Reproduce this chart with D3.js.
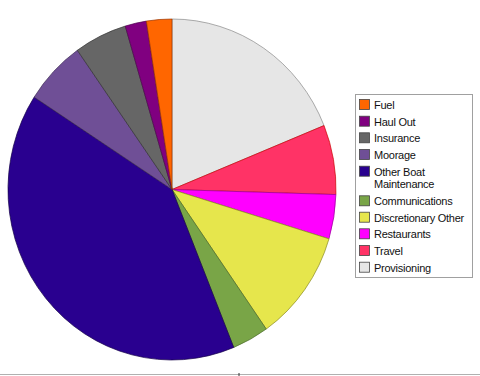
<!DOCTYPE html>
<html>
<head>
<meta charset="utf-8">
<script src="https://cdn.jsdelivr.net/npm/d3@7"></script>
<style>
  html, body { margin: 0; padding: 0; background: #fff; }
  svg { display: block; }
</style>
</head>
<body>
<div id="chart"></div>
<script>
// Legend order (top to bottom)
const categories = ['Fuel', 'Haul Out', 'Insurance', 'Moorage', 'Other Boat Maintenance',
  'Communications', 'Discretionary Other', 'Restaurants', 'Travel', 'Provisioning'];
// Share of total, percent
const shares = [2.5, 2.1, 5.2, 6.1, 40.3, 3.6, 10.6, 4.2, 6.6, 18.9];
const colors = ['#ff6600', '#800080', '#666666', '#6f4f96', '#29008f',
  '#79a547', '#e6e64c', '#ff00ff', '#ff3366', '#e6e6e6'];
const strokes = ['#993300', '#4d004d', '#333333', '#3d2b55', '#140047',
  '#4b6a2a', '#8a8a1e', '#990099', '#cc0000', '#888888'];

const width = 480, height = 376;
const cx = 172, cy = 189.5, rx = 164, ry = 170.5;

const svg = d3.select('#chart').append('svg')
  .attr('width', width)
  .attr('height', height);

svg.append('rect').attr('width', width).attr('height', height).attr('fill', '#fff');

// Slices run clockwise from 12 o'clock in reverse legend order
const data = categories.map((c, i) => ({ name: c, value: shares[i], color: colors[i], stroke: strokes[i] }))
  .reverse();

const pie = d3.pie().sort(null).value(d => d.value);
const arc = d3.arc().innerRadius(0).outerRadius(rx);

svg.append('g')
  .attr('transform', `translate(${cx},${cy}) scale(1,${ry / rx})`)
  .selectAll('path')
  .data(pie(data))
  .enter()
  .append('path')
  .attr('d', arc)
  .attr('fill', d => d.data.color)
  .attr('stroke', d => d.data.stroke)
  .attr('stroke-width', 0.7)
  .attr('vector-effect', 'non-scaling-stroke');

// Legend
const legend = svg.append('g');
legend.append('rect')
  .attr('x', 355.5).attr('y', 94.5)
  .attr('width', 117).attr('height', 183)
  .attr('fill', '#fff')
  .attr('stroke', '#a0a0a0');

const rowY = [105, 121.7, 138.3, 155, 171.7, 201.3, 217.7, 234.3, 251, 267.7];
categories.forEach((c, i) => {
  const y = rowY[i];
  legend.append('rect')
    .attr('x', 359.5).attr('y', y - 5.5)
    .attr('width', 10).attr('height', 10)
    .attr('fill', colors[i])
    .attr('stroke', '#444')
    .attr('stroke-width', 0.8);
  const t = legend.append('text')
    .attr('x', 374).attr('y', y + 4)
    .attr('font-family', 'Liberation Sans, Arial, sans-serif')
    .attr('font-size', 11)
    .attr('letter-spacing', -0.25)
    .attr('fill', '#111');
  if (c === 'Other Boat Maintenance') {
    t.append('tspan').attr('x', 374).text('Other Boat');
    t.append('tspan').attr('x', 374).attr('dy', 12.7).text('Maintenance');
  } else {
    t.text(c);
  }
});

// Bottom rule
svg.append('line')
  .attr('x1', 0).attr('x2', width)
  .attr('y1', 374.5).attr('y2', 374.5)
  .attr('stroke', '#b0b0b0');
svg.append('line')
  .attr('x1', 239).attr('x2', 239)
  .attr('y1', 373).attr('y2', 376)
  .attr('stroke', '#333');
</script>
</body>
</html>
